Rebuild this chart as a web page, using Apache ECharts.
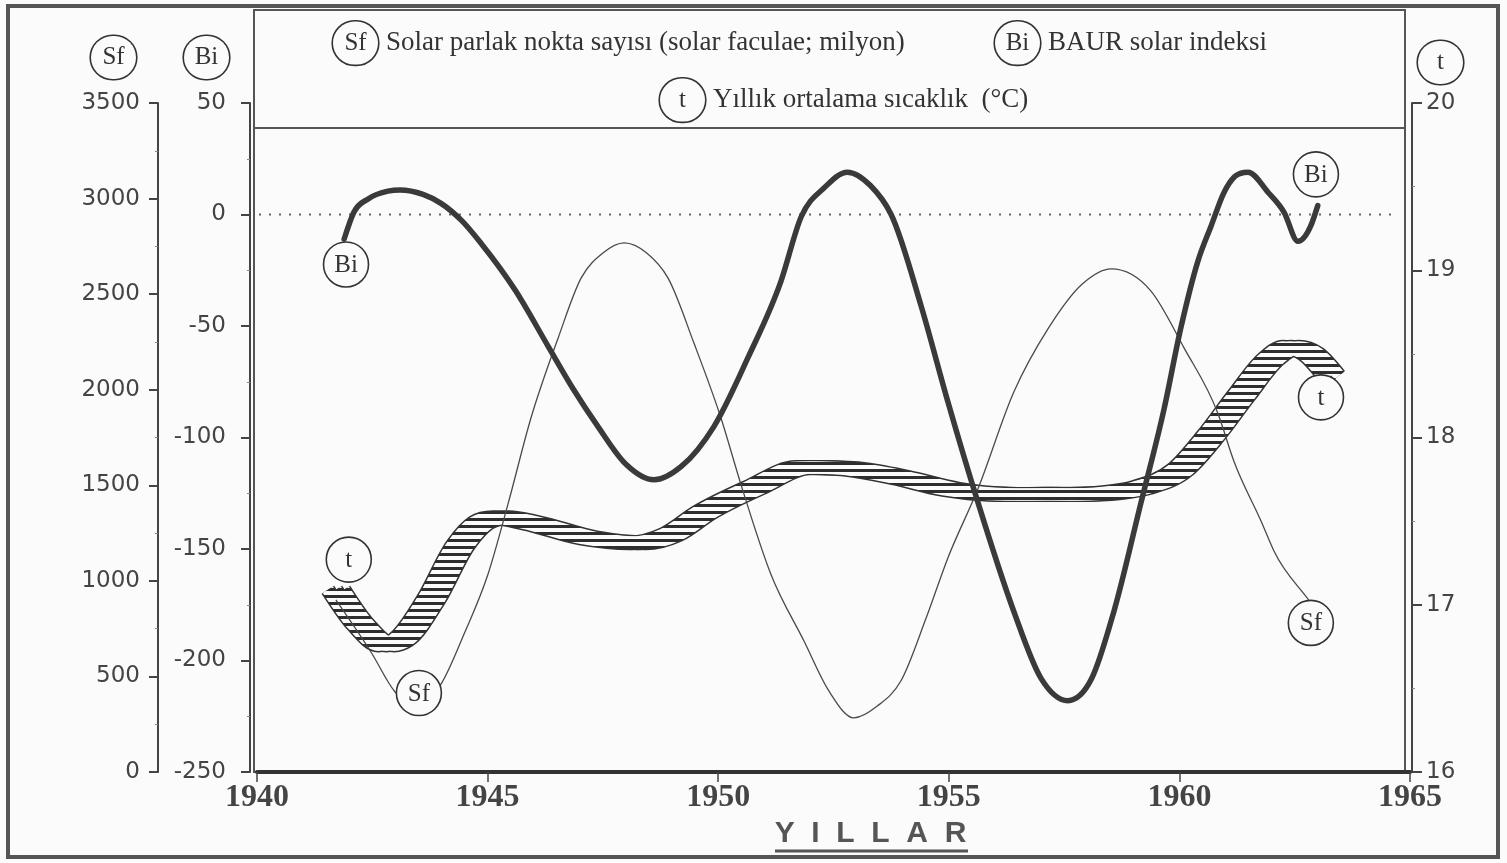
<!DOCTYPE html>
<html><head><meta charset="utf-8">
<script src="https://cdn.jsdelivr.net/npm/echarts/dist/echarts.min.js"></script>
<style>html,body{margin:0;padding:0;background:#fbfbfb}#c{width:1507px;height:863px}</style>
</head><body><div id="c"></div>
<script>
// ---- data ----
const biYears = [1941.89,1942.10,1942.41,1942.84,1943.1,1943.6,1943.99,1944.45,1944.86,1945.6,1946.31,1946.85,1947.39,1948.0,1948.61,1949.2,1949.91,1950.65,1951.36,1951.80,1952.3,1952.8,1953.3,1953.75,1954.40,1954.98,1955.63,1956.41,1957.0,1957.58,1958.1,1958.58,1959.17,1959.67,1960.03,1960.40,1960.69,1960.97,1961.2,1961.49,1961.92,1962.27,1962.57,1962.85,1963.0];
const biValues = [-11,1,7,10.5,11,9,5,-3,-13,-34,-59,-78,-95,-112,-119,-113,-95,-64,-30,-1,12,19,13,0,-41,-84,-129,-178,-208,-218,-208,-178,-129,-87,-51,-21,-5,10,17,19,10,1,-12,-5,4];

const sfYears = [1941.71,1942.49,1942.99,1943.49,1943.99,1944.49,1945.01,1945.44,1945.94,1946.53,1947.03,1947.5,1947.96,1948.45,1948.91,1949.48,1950.06,1950.49,1951.14,1951.86,1952.4,1952.94,1953.45,1953.96,1954.5,1954.98,1955.63,1956.41,1957.15,1957.9,1958.52,1959.38,1960.10,1960.84,1961.18,1961.77,1962.05,1962.85,1963.0];
const sfValues = [900,620,420,340,460,722,1036,1400,1852,2271,2585,2715,2768,2715,2585,2240,1852,1507,1036,685,424,283,345,476,800,1120,1480,1988,2318,2554,2632,2517,2219,1873,1627,1313,1156,884,830];

const tYears = [1941.71,1942.25,1942.80,1943.12,1943.77,1944.42,1944.86,1945.29,1945.94,1947.18,1948.26,1948.98,1949.69,1950.78,1951.86,1952.94,1953.96,1955.05,1955.59,1957.22,1958.52,1959.17,1960.03,1960.68,1961.34,1961.99,1962.42,1962.85,1963.29];
const tValues = [17.09,16.88,16.76,16.79,17.03,17.36,17.49,17.52,17.49,17.40,17.37,17.42,17.55,17.70,17.82,17.81,17.76,17.69,17.67,17.66,17.67,17.70,17.81,18.01,18.25,18.47,18.54,18.50,18.37];

const xMin = 1940, xMax = 1965, xStep = 5;
const legendNames = {
  Sf: 'Solar parlak nokta sayısı (solar faculae; milyon)',
  Bi: 'BAUR solar indeksi',
  t: 'Yıllık ortalama sıcaklık  (°C)'
};
const xAxisName = 'Y  I  L  L  A  R';

// ---- build ----
const zip = (xs, ys) => xs.map((x, i) => [x, ys[i]]);
const biData = zip(biYears, biValues);
const sfData = zip(sfYears, sfValues);
const tData = zip(tYears, tValues);

const INK = '#333';
const BG = '#fbfbfb';

function stripe() {
  const c = document.createElement('canvas');
  c.width = 4; c.height = 7;
  const g = c.getContext('2d');
  g.fillStyle = BG; g.fillRect(0, 0, 4, 7);
  g.fillStyle = '#2e2e2e'; g.fillRect(0, 0, 4, 3);
  return c;
}
const stripePattern = { image: stripe(), repeat: 'repeat' };

// smooth cubic Hermite path through pixel points (flat tangent at local extrema)
function smoothPath(P) {
  const n = P.length, h = [], s = [], m = new Array(n);
  for (let i = 0; i < n - 1; i++) { h[i] = P[i + 1][0] - P[i][0]; s[i] = (P[i + 1][1] - P[i][1]) / h[i]; }
  for (let i = 1; i < n - 1; i++) {
    const p = (s[i - 1] * h[i] + s[i] * h[i - 1]) / (h[i - 1] + h[i]);
    m[i] = (s[i - 1] * s[i] <= 0) ? 0 : p;
  }
  m[0] = (3 * s[0] - m[1]) / 2;
  m[n - 1] = (3 * s[n - 2] - m[n - 2]) / 2;
  let d = 'M' + P[0][0] + ' ' + P[0][1];
  for (let i = 0; i < n - 1; i++) {
    const dx = h[i] / 3;
    d += ' C' + (P[i][0] + dx) + ' ' + (P[i][1] + m[i] * dx) + ' ' + (P[i + 1][0] - dx) + ' ' + (P[i + 1][1] - m[i + 1] * dx) + ' ' + P[i + 1][0] + ' ' + P[i + 1][1];
  }
  return d;
}

function tag(api, txt, xy) {
  const p = api.coord(xy);
  return [
    { type: 'circle', shape: { cx: p[0], cy: p[1], r: 22.5 }, style: { fill: BG, stroke: INK, lineWidth: 1.6 } },
    { type: 'text', x: p[0], y: p[1] + 1, style: { text: txt, font: '25px "Liberation Serif"', fill: INK, align: 'center', verticalAlign: 'middle', textAlign: 'center', textVerticalAlign: 'middle' } }
  ];
}

const pathOf = (api, data) => smoothPath(data.map(d => api.coord(d)));

function drawBi(params, api) {
  if (params.dataIndex !== 0) return null;
  const z0 = api.coord([xMin, 0]), z1 = api.coord([xMax, 0]);
  return { type: 'group', children: [
    { type: 'line', shape: { x1: z0[0] + 2, y1: z0[1], x2: z1[0] - 14, y2: z1[1] }, style: { stroke: '#666', lineWidth: 2, lineDash: [2, 8] } },
    { type: 'path', shape: { pathData: pathOf(api, biData) }, style: { fill: 'none', stroke: '#3a3a3a', lineWidth: 5.5, lineJoin: 'round', lineCap: 'round' } }
  ].concat(tag(api, 'Bi', [1941.93, -22.4]), tag(api, 'Bi', [1962.96, 18])) };
}
function drawSf(params, api) {
  if (params.dataIndex !== 0) return null;
  return { type: 'group', children: [
    { type: 'path', shape: { pathData: pathOf(api, sfData) }, style: { fill: 'none', stroke: '#4a4a4a', lineWidth: 1.3 } }
  ].concat(tag(api, 'Sf', [1943.51, 413]), tag(api, 'Sf', [1962.85, 780])) };
}
function drawT(params, api) {
  if (params.dataIndex !== 0) return null;
  const d = pathOf(api, tData);
  const shifts = [-8, 0, 8];
  const outl = shifts.map(dx => ({ type: 'path', x: dx, shape: { pathData: d }, style: { fill: 'none', stroke: '#333', lineWidth: 15, lineJoin: 'round' } }));
  const fill = shifts.map(dx => ({ type: 'path', x: dx, shape: { pathData: d }, style: { fill: 'none', stroke: stripePattern, lineWidth: 12, lineJoin: 'round' } }));
  return { type: 'group', children: outl.concat(fill, tag(api, 't', [1941.99, 17.27]), tag(api, 't', [1963.07, 18.24])) };
}

const circ = {
  fontFamily: 'Liberation Serif', fontSize: 25, color: INK,
  width: 45, height: 43, lineHeight: 43, align: 'center',
  borderColor: INK, borderWidth: 1.6, borderRadius: 23, backgroundColor: BG
};
const plain = v => String(v);
const axisLabelStyle = { fontFamily: 'DejaVu Sans', fontSize: 23, color: '#444', formatter: plain };

function legendAt(name, left, top) {
  return {
    data: [name], left, top, itemWidth: 0, itemHeight: 0, icon: 'rect',
    selectedMode: false, padding: 5,
    formatter: n => '{c|' + n + '}{g|}{n|' + legendNames[n] + '}',
    textStyle: { rich: { c: circ, g: { width: 8 }, n: { fontFamily: 'Liberation Serif', fontSize: 27, color: INK } } }
  };
}
function yAx(o) {
  return Object.assign({
    type: 'value',
    axisLine: { show: true, onZero: false, lineStyle: { color: '#444', width: 2 } },
    axisTick: { show: true, length: 9, lineStyle: { color: '#444', width: 2 } },
    minorTick: { show: true, splitNumber: 2, length: 3, lineStyle: { color: '#888' } },
    splitLine: { show: false }, nameLocation: 'end'
  }, o);
}

const chart = echarts.init(document.getElementById('c'), null, { renderer: 'canvas' });
chart.setOption({
  animation: false,
  backgroundColor: BG,
  grid: { left: 257, right: 97, top: 103, bottom: 91 },
  legend: [legendAt('Sf', 323, 15), legendAt('Bi', 985, 15), legendAt('t', 650, 72)],
  xAxis: {
    type: 'value', min: xMin, max: xMax, interval: xStep,
    axisLine: { onZero: false, lineStyle: { color: INK, width: 4 } },
    axisTick: { length: 10, lineStyle: { color: '#444', width: 1.5 } },
    axisLabel: { fontFamily: 'Liberation Serif', fontSize: 32, fontWeight: 'bold', color: '#444', margin: 10, formatter: plain },
    splitLine: { show: false },
    name: xAxisName, nameLocation: 'middle', nameGap: 46,
    nameTextStyle: { fontFamily: 'Liberation Sans', fontWeight: 'bold', fontSize: 30, color: '#555', padding: [0, 0, 0, 74] }
  },
  yAxis: [
    yAx({ position: 'left', offset: 7, min: -250, max: 50, interval: 50,
      axisLabel: Object.assign({ margin: 24 }, axisLabelStyle),
      name: '{c|Bi}{s|}', nameGap: 24, nameTextStyle: { align: 'right', rich: { c: circ, s: { width: 21 } } } }),
    yAx({ position: 'left', offset: 99, min: 0, max: 3500, interval: 500,
      axisLabel: Object.assign({ margin: 18 }, axisLabelStyle),
      name: '{c|Sf}{s|}', nameGap: 24, nameTextStyle: { align: 'right', rich: { c: circ, s: { width: 22 } } } }),
    yAx({ position: 'right', offset: 2, min: 16, max: 20, interval: 1,
      axisTick: { show: true, length: 10, lineStyle: { color: '#444', width: 2 } },
      axisLabel: Object.assign({ margin: 14 }, axisLabelStyle),
      name: '{s|}{c|t}', nameGap: 19, nameTextStyle: { align: 'left', rich: { c: circ, s: { width: 6 } } } })
  ],
  series: [
    { name: 't', type: 'custom', yAxisIndex: 2, data: tData, encode: { x: 0, y: 1 }, renderItem: drawT, silent: true, z: 2, itemStyle: { color: '#333' } },
    { name: 'Sf', type: 'custom', yAxisIndex: 1, data: sfData, encode: { x: 0, y: 1 }, renderItem: drawSf, silent: true, z: 4, itemStyle: { color: '#4a4a4a' } },
    { name: 'Bi', type: 'custom', yAxisIndex: 0, data: biData, encode: { x: 0, y: 1 }, renderItem: drawBi, silent: true, z: 5, itemStyle: { color: '#3a3a3a' } }
  ],
  graphic: [
    { type: 'rect', silent: true, z: -1, shape: { x: 8, y: 6, width: 1490, height: 851 }, style: { fill: 'none', stroke: '#555', lineWidth: 4 } },
    { type: 'rect', silent: true, z: -1, shape: { x: 254, y: 10, width: 1151, height: 762 }, style: { fill: 'none', stroke: '#555', lineWidth: 2 } },
    { type: 'line', silent: true, z: -1, shape: { x1: 254, y1: 128, x2: 1405, y2: 128 }, style: { stroke: '#555', lineWidth: 2 } },
    { type: 'line', silent: true, z: -1, shape: { x1: 775, y1: 851, x2: 968, y2: 851 }, style: { stroke: '#555', lineWidth: 3 } }
  ]
});
</script></body></html>
